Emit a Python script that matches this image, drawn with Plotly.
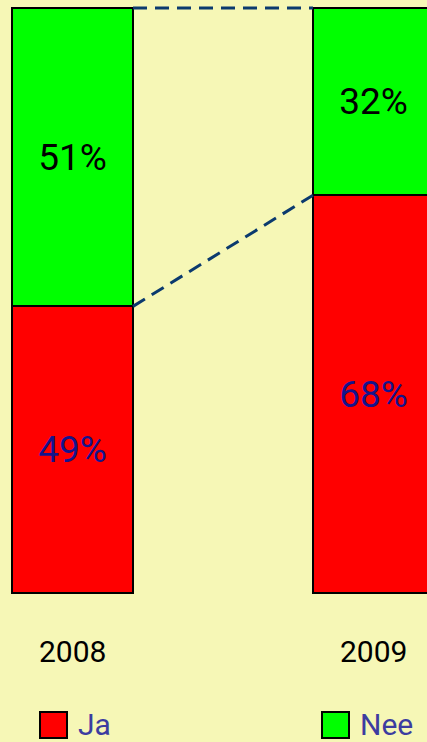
import plotly.graph_objects as go

# ---- data ----
years = ["2008", "2009"]
series_names = ["Ja", "Nee"]
ja_values = [49, 68]
nee_values = [51, 32]

# ---- style ----
W, H = 427, 742
BG = "#F6F7B6"
RED = "#FF0000"
GREEN = "#00FF00"
LINE_COL = "#0B3A6E"
FONT = "Roboto, Liberation Sans, Arial, sans-serif"
BAR_W = 0.402

M_T, M_B = 6, 147
plot_h = H - M_T - M_B

xs = list(range(len(years)))

fig = go.Figure()

fig.add_trace(go.Bar(
    x=xs, y=ja_values, name=series_names[0], width=BAR_W,
    marker=dict(color=RED, line=dict(color="#000000", width=2)),
    text=[f"{v}%" for v in ja_values], textposition="inside",
    insidetextanchor="middle", textangle=0,
    textfont=dict(family=FONT, size=37, color="#14148C"),
    showlegend=False, hoverinfo="skip",
))
fig.add_trace(go.Bar(
    x=xs, y=nee_values, name=series_names[1], width=BAR_W,
    marker=dict(color=GREEN, line=dict(color="#000000", width=2)),
    text=[f"{v}%" for v in nee_values], textposition="inside",
    insidetextanchor="middle", textangle=0,
    textfont=dict(family=FONT, size=37, color="#000000"),
    showlegend=False, hoverinfo="skip",
))

# connector lines between bar edges
tops = [a + b for a, b in zip(ja_values, nee_values)]
cx = [xs[0] + BAR_W / 2, xs[1] - BAR_W / 2]
for yy in (ja_values, tops):
    fig.add_trace(go.Scatter(
        x=cx, y=yy, mode="lines",
        line=dict(color=LINE_COL, width=3, dash="14px,8px"),
        showlegend=False, hoverinfo="skip", cliponaxis=False,
    ))

# year labels
for xi, yr in zip(xs, years):
    fig.add_annotation(x=xi, y=0, xref="x", yref="y", text=yr,
                       showarrow=False, yanchor="middle", yshift=-58,
                       font=dict(family=FONT, size=30, color="#000000"))

# custom legend
def px_x(p):
    return p / W

def px_y(p):
    return (H - M_B - p) / plot_h

legend_items = [(series_names[0], RED, 40), (series_names[1], GREEN, 322)]
for name, col, x0 in legend_items:
    fig.add_shape(type="rect", xref="paper", yref="paper",
                  x0=px_x(x0), x1=px_x(x0 + 27), y0=px_y(738), y1=px_y(712),
                  fillcolor=col, line=dict(color="#000000", width=2))
    fig.add_annotation(x=px_x(x0 + 36), y=px_y(724), xref="paper", yref="paper",
                       text=name, showarrow=False, xanchor="left", yanchor="middle",
                       font=dict(family=FONT, size=30, color="#3C3CA0"))

px_per_unit = (593 - 8) / 100.0
fig.update_layout(
    width=W, height=H,
    margin=dict(l=0, r=0, t=M_T, b=M_B),
    paper_bgcolor=BG, plot_bgcolor=BG,
    barmode="stack",
    xaxis=dict(range=[-72.5 / 301, (W - 72.5) / 301], showgrid=False,
               zeroline=False, showticklabels=False, ticks=""),
    yaxis=dict(range=[-2 / px_per_unit, 100 + 2 / px_per_unit], showgrid=False,
               zeroline=False, showticklabels=False, ticks=""),
    showlegend=False,
    uniformtext=dict(mode=False),
)

fig.write_html("out.html",
               config={"displayModeBar": False},
               post_script="document.body.style.margin='0';document.body.style.overflow='hidden';")
